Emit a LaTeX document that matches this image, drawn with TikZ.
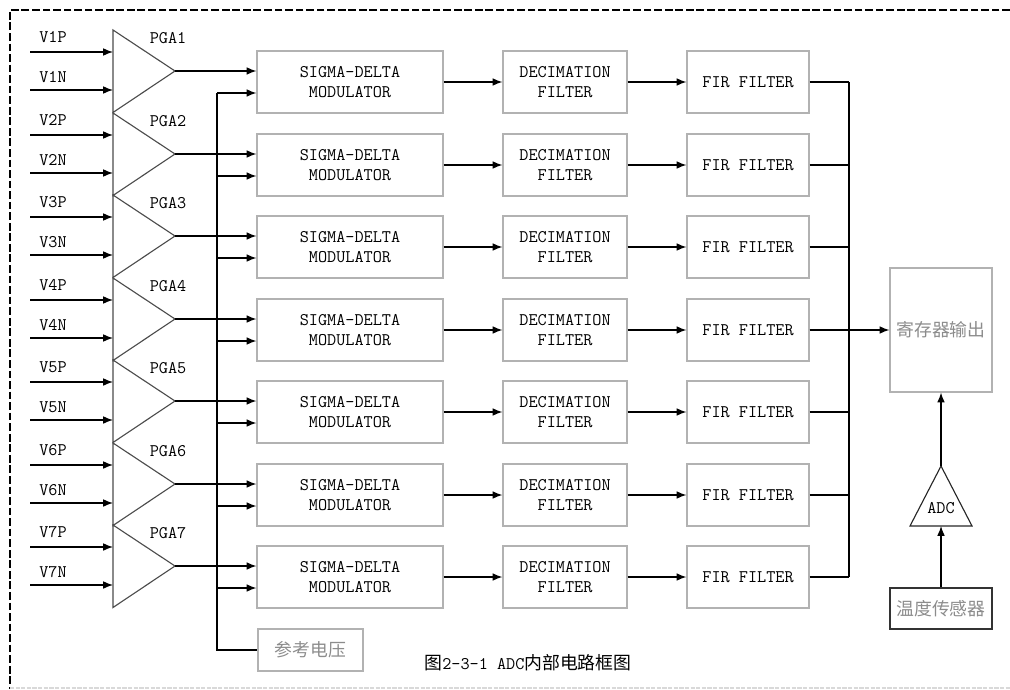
\documentclass[tikz,border=0pt]{standalone}
\usepackage{fontspec}
\newfontfamily\cjk{Noto Sans CJK SC}
\newcommand\boxfont{\ttfamily\fontsize{12.6}{14.5}\selectfont}
\newcommand\hanfont{\cjk\fontsize{12.7}{14}\selectfont}
\usetikzlibrary{arrows.meta}
\begin{document}
\begin{tikzpicture}[x=0.025cm,y=-0.025cm,>={Latex[length=7pt,width=5.5pt]},
    every node/.style={font=\boxfont},
    blk/.style={draw=black!30,line width=0.8pt,align=center,inner sep=0pt,minimum height=1.55cm},
    amp/.style={draw=black!70,line width=0.8pt},
    wire/.style={line width=0.9pt},
    han/.style={font=\hanfont,text=black!45}]
\useasboundingbox (0,0) rectangle (1010,689);
\draw[line width=1.3pt,dash pattern=on 5.5pt off 2pt] (1010,10) -- (10,10) -- (10,689);
\draw[black!15,line width=0.8pt,dash pattern=on 3pt off 1pt] (10,688) -- (1010,688);
\coordinate (busT) at (849,82);
\coordinate (busB) at (849,577);
\foreach \k in {1,...,7}{
    \pgfmathsetmacro\yc{round(82+82.5*(\k-1))}
    \node[blk,minimum width=4.65cm] (sd\k) at (350,\yc) {SIGMA-DELTA\\MODULATOR};
    \node[blk,minimum width=3.1cm] (dec\k) at (565,\yc) {DECIMATION\\FILTER};
    \node[blk,minimum width=3.05cm] (fir\k) at (748,\yc) {FIR FILTER};
    % PGA
    \draw[amp] (113,\yc-52) -- (175,\yc-11) -- (113,\yc+30.5) -- cycle;
    \coordinate (pgaL\k) at (113,\yc);
    \coordinate (apex\k) at (175,\yc-11);
    \coordinate (inp\k) at (30,\yc-30);
    \coordinate (inn\k) at (30,\yc+8);
    \coordinate (rin\k) at (217,\yc+11);
    \node (pga\k) at (168,\yc-44) {PGA\k};
    \node (vp\k) at (53,\yc-45) {V\k P};
    \node (vn\k) at (53,\yc-5) {V\k N};
    \draw[wire,->] (inp\k) -- (inp\k -| pgaL\k);
    \draw[wire,->] (inn\k) -- (inn\k -| pgaL\k);
    \draw[wire,->] (apex\k) -- (apex\k -| sd\k.west);
    \draw[wire,->] (rin\k) -- (rin\k -| sd\k.west);
    \draw[wire,->] (sd\k) -- (dec\k);
    \draw[wire,->] (dec\k) -- (fir\k);
    \draw[wire] (fir\k.east) -- (fir\k.east -| busT);
}
\draw[wire] (busT) -- (busB);
\node[blk,han,minimum width=2.55cm,minimum height=3.1cm] (reg) at (941,330) {寄存器输出};
\draw[wire,->] (fir4.east) -- (fir4.east -| reg.west);
\node[blk,han,minimum width=2.625cm,minimum height=1.05cm] (vref) at (310.5,650) {参考电压};
\draw[wire] (rin1) |- (vref.west);
\node[blk,han,draw=black!80,minimum width=2.55cm,minimum height=1.025cm] (sens) at (941,608.5) {温度传感器};
\coordinate (adcT) at (941,466);
\coordinate (adcB) at (941,526);
\draw[amp,draw=black!85] (adcT) -- (972,526) -- (910,526) -- cycle;
\node (adc) at (941,508) {ADC};
\draw[wire,->] (sens) -- (adcB);
\draw[wire,->] (adcT) -- (reg);
\node (cap) at (528,663) {{\hanfont 图}2-3-1 ADC{\hanfont 内部电路框图}};
\end{tikzpicture}
\end{document}
